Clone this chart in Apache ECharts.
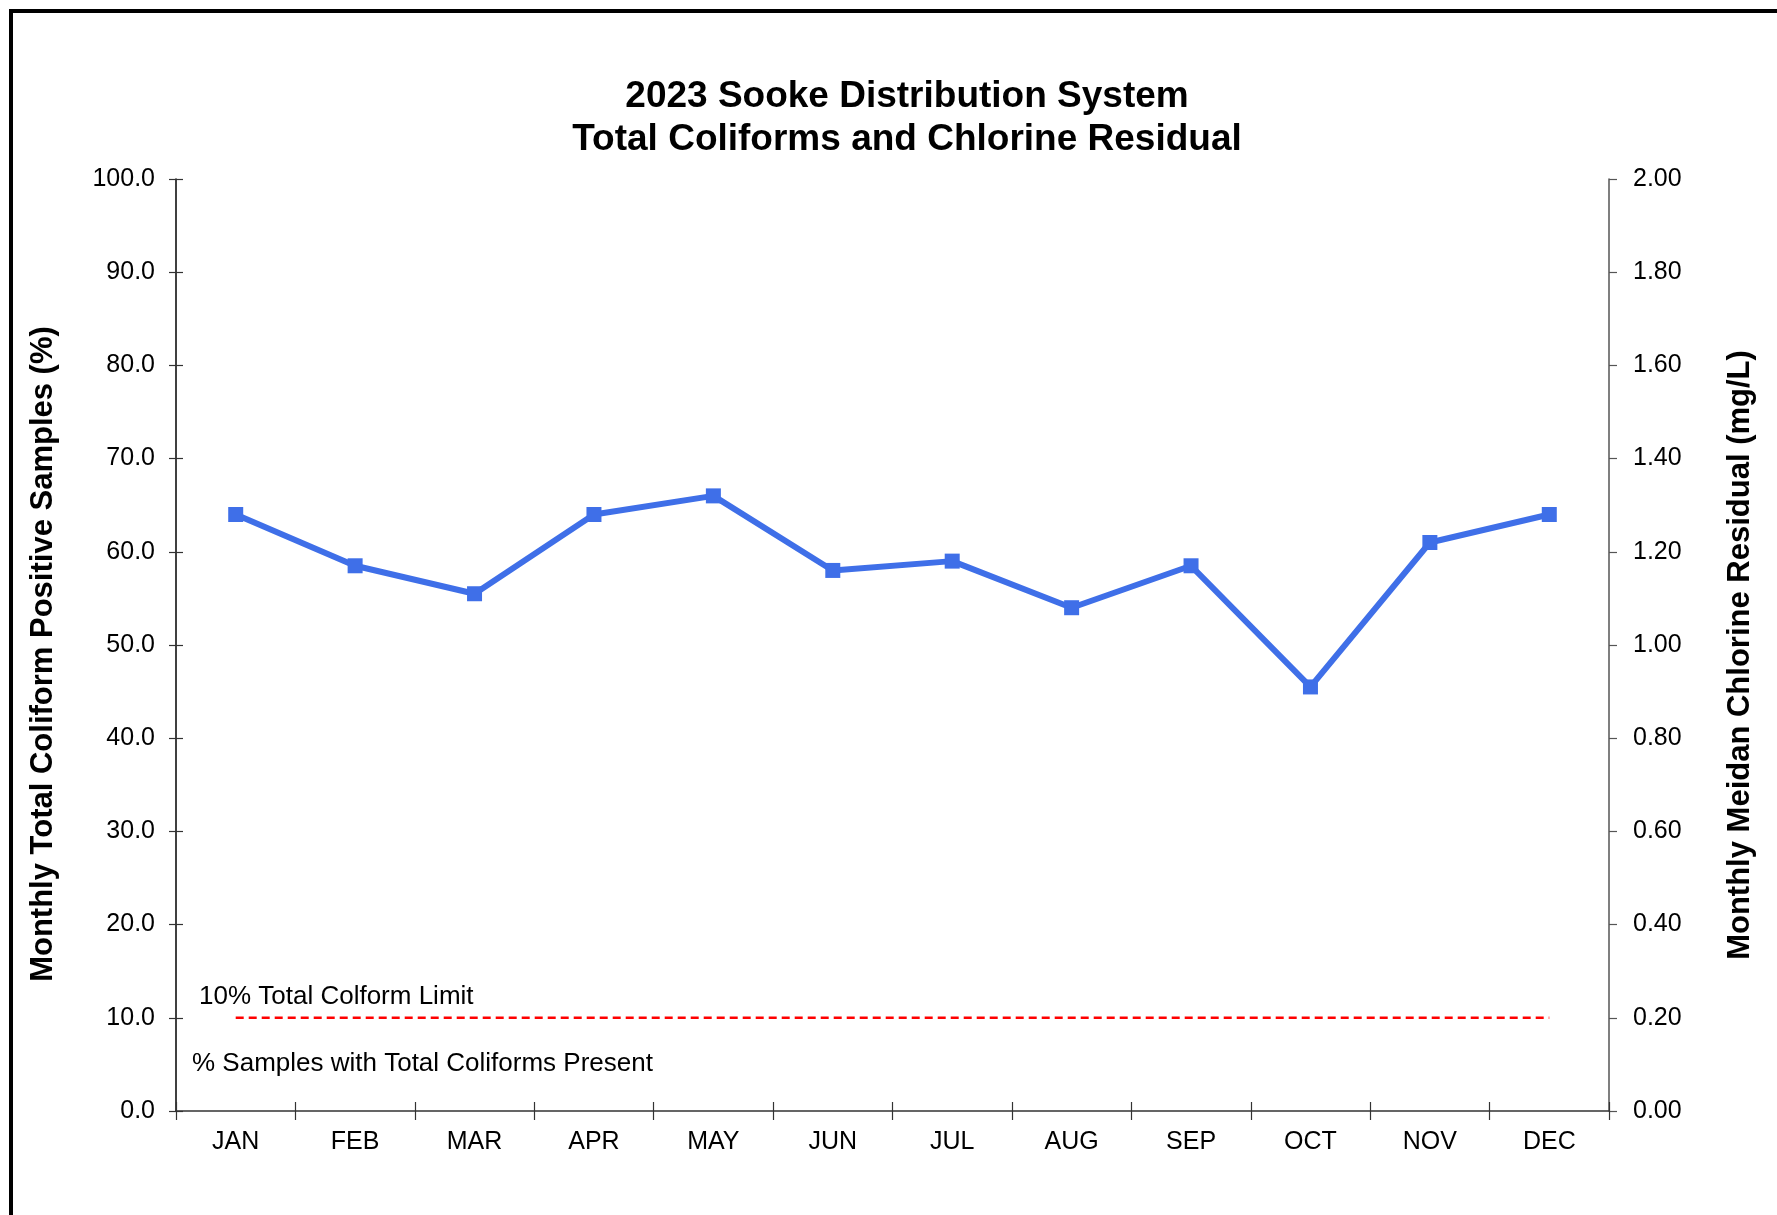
<!DOCTYPE html>
<html><head><meta charset="utf-8">
<script src="https://cdn.jsdelivr.net/npm/echarts@6/dist/echarts.min.js"></script>
<style>html,body{margin:0;padding:0;background:#fff}#c{width:1777px;height:1215px}</style>
</head><body><div id="c"></div>
<script>
const months = ['JAN','FEB','MAR','APR','MAY','JUN','JUL','AUG','SEP','OCT','NOV','DEC'];
const chlorine = [1.28,1.17,1.11,1.28,1.32,1.16,1.18,1.08,1.17,0.91,1.22,1.28];
const coliformPct = [0,0,0,0,0,0,0,0,0,0,0,0];
const limitPct = [10,10,10,10,10,10,10,10,10,10,10,10];

const F = 'Liberation Sans, Arial, sans-serif';
const chart = echarts.init(document.getElementById('c'));
chart.setOption({
  backgroundColor: '#fff',
  animation: false,
  title: {
    text: '2023 Sooke Distribution System\nTotal Coliforms and Chlorine Residual',
    left: 902, top: 70, textAlign: 'center',
    textStyle: {fontFamily: F, fontSize: 37, fontWeight: 'bold', color: '#000', lineHeight: 43}
  },
  grid: {left: 176, right: 168, top: 179, bottom: 104},
  xAxis: [{
    type: 'category', data: months, boundaryGap: true,
    axisLine: {lineStyle: {color: '#333', width: 1.5}},
    axisTick: {show: true, length: 9, lineStyle: {color: '#333', width: 1.2}},
    axisLabel: {fontFamily: F, fontSize: 25, color: '#000', margin: 19}
  },{
    type: 'category', data: months, boundaryGap: true, position: 'bottom',
    axisLine: {show: false},
    axisTick: {show: true, inside: true, length: 9, lineStyle: {color: '#333', width: 1.2}},
    axisLabel: {show: false}
  }],
  yAxis: [{
    type: 'value', min: 0, max: 100, interval: 10, position: 'left',
    name: 'Monthly Total Coliform Positive Samples (%)',
    nameLocation: 'middle', nameGap: 117, nameRotate: 90,
    nameTextStyle: {fontFamily: F, fontSize: 31, fontWeight: 'bold', color: '#000', padding: [0, 18, 0, 0]},
    axisLine: {show: true, lineStyle: {color: '#000', width: 1.5}},
    axisTick: {show: true, length: 7, lineStyle: {color: '#333', width: 1.2}},
    axisLabel: {fontFamily: F, fontSize: 25, color: '#000', margin: 21, formatter: v => v.toFixed(1)},
    splitLine: {show: false}
  },{
    type: 'value', min: 0, max: 2, interval: 0.2, position: 'right',
    name: 'Monthly Meidan Chlorine Residual (mg/L)',
    nameLocation: 'middle', nameGap: 116, nameRotate: 90,
    nameTextStyle: {fontFamily: F, fontSize: 31, fontWeight: 'bold', color: '#000', padding: [0, 20, 0, 0]},
    axisLine: {show: true, lineStyle: {color: '#555', width: 1.5}},
    axisTick: {show: true, length: 8, lineStyle: {color: '#555', width: 1.2}},
    axisLabel: {fontFamily: F, fontSize: 25, color: '#000', margin: 24, formatter: v => v.toFixed(2)},
    splitLine: {show: false}
  },{
    type: 'value', min: 0, max: 100, interval: 10, position: 'left',
    axisLine: {show: false},
    axisTick: {show: true, inside: true, length: 7, lineStyle: {color: '#333', width: 1.2}},
    axisLabel: {show: false}, splitLine: {show: false}
  }],
  series: [{
    name: '% Samples with Total Coliforms Present', type: 'bar', yAxisIndex: 0,
    data: coliformPct, itemStyle: {color: '#888'}, barWidth: 30
  },{
    name: '10% Total Colform Limit', type: 'line', yAxisIndex: 0,
    data: limitPct, symbol: 'none',
    lineStyle: {color: '#ff0000', width: 2.5, type: [8, 5]}
  },{
    name: 'Chlorine', type: 'line', yAxisIndex: 1,
    data: chlorine, symbol: 'rect', symbolSize: 15,
    itemStyle: {color: '#3f6fe8'},
    lineStyle: {color: '#3f6fe8', width: 6}
  }],
  graphic: [
    {type: 'rect', shape: {x: 11, y: 11, width: 1800, height: 1300},
     style: {fill: 'none', stroke: '#000', lineWidth: 4}},
    {type: 'text', left: 199, top: 984,
     style: {text: '10% Total Colform Limit', font: '26px ' + F, fill: '#000'}},
    {type: 'text', left: 192, top: 1051,
     style: {text: '% Samples with Total Coliforms Present', font: '26px ' + F, fill: '#000'}}
  ]
});
</script></body></html>
